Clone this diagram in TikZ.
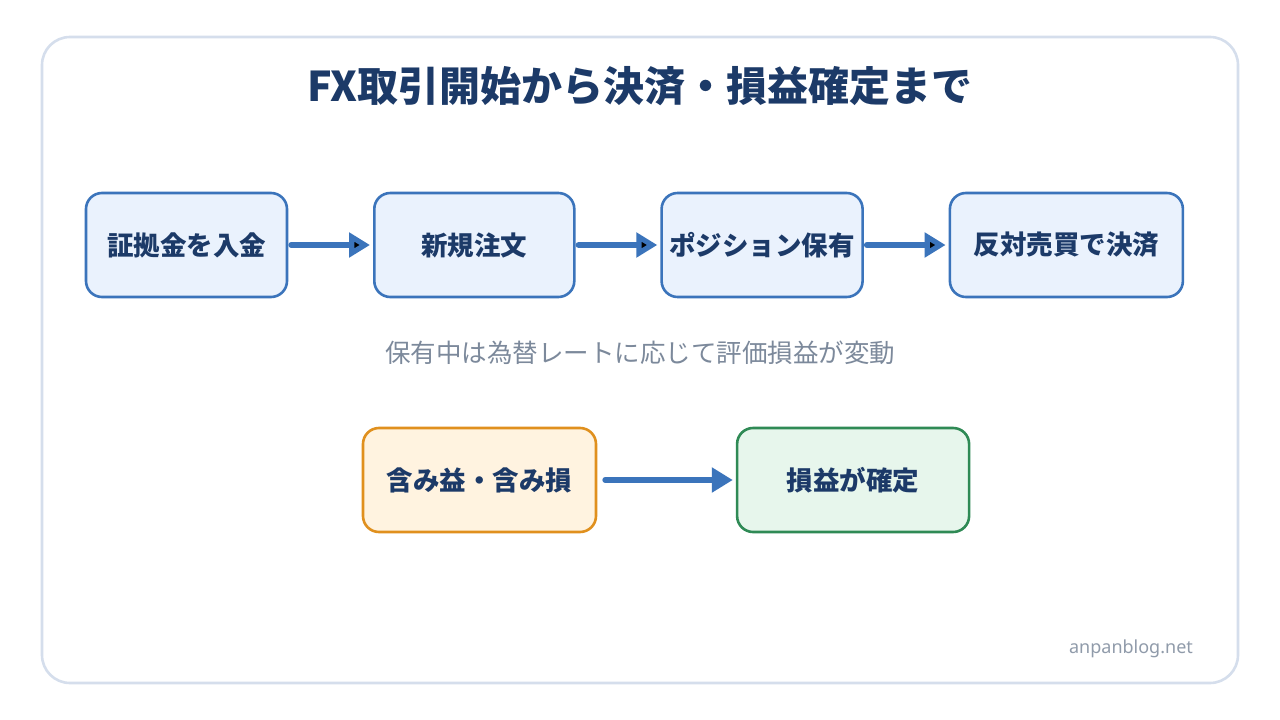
\documentclass[tikz,border=0pt]{standalone}
\usepackage{fontspec}
\setmainfont{Noto Sans CJK JP}
\newfontfamily\latinsans{Noto Sans}
\usepackage{tikz}
\usetikzlibrary{arrows.meta, positioning}

\definecolor{navy}{HTML}{1C3A68}
\definecolor{boxblue}{HTML}{3B74BB}
\definecolor{fillblue}{HTML}{EAF2FD}
\definecolor{boxorange}{HTML}{E0901E}
\definecolor{fillorange}{HTML}{FFF3E0}
\definecolor{boxgreen}{HTML}{2F8A55}
\definecolor{fillgreen}{HTML}{E7F6EC}
\definecolor{framegray}{HTML}{D5DEEC}
\definecolor{notegray}{HTML}{7C899B}

\tikzset{
  box/.style={draw=boxblue, fill=fillblue, line width=2.6pt, rounded corners=16pt,
    minimum height=104pt, text=navy, font=\bfseries\fontsize{26.5pt}{30pt}\selectfont},
  warm/.style={box, draw=boxorange, fill=fillorange},
  done/.style={box, draw=boxgreen, fill=fillgreen},
  flow/.style={draw=boxblue, line width=6pt, line cap=round,
    -{Triangle[length=21pt, width=24pt]}, shorten <=3pt, shorten >=3pt}
}

\begin{document}
\begin{tikzpicture}[x=1pt, y=-1pt, node distance=84.7pt]
\useasboundingbox (0,0) rectangle (1280,720);
\draw[framegray, line width=2.6pt, rounded corners=28pt, fill=white] (42,37) rectangle (1238,683);

\node[text=navy, font=\bfseries\fontsize{41pt}{46pt}\selectfont] (title) at (640,86) {FX取引開始から決済・損益確定まで};

% top row
\node[box, minimum width=201pt] (deposit) at (186.5,245) {証拠金を入金};
\node[box, minimum width=200pt] (order) [right=of deposit] {新規注文};
\node[box, minimum width=201pt] (position) [right=of order] {ポジション保有};
\node[box, minimum width=233pt] (settle) [right=of position] {反対売買で決済};

\node[text=notegray, font=\fontsize{25.5pt}{30pt}\selectfont] (note) at (640,353) {保有中は為替レートに応じて評価損益が変動};

% bottom row
\node[warm, minimum width=233pt] (unreal) at (479.5,480) {含み益・含み損};
\node[done, minimum width=232pt] (fixed) [right=138.5pt of unreal] {損益が確定};

\path[flow]
  (deposit) edge (order)
  (order) edge (position)
  (position) edge (settle);
\draw[flow, shorten <=8pt] (unreal) -- (fixed);

\node[text=notegray!85, font=\latinsans\fontsize{18pt}{21pt}\selectfont] (site) at (1131,649) {anpanblog.net};
\end{tikzpicture}
\end{document}
